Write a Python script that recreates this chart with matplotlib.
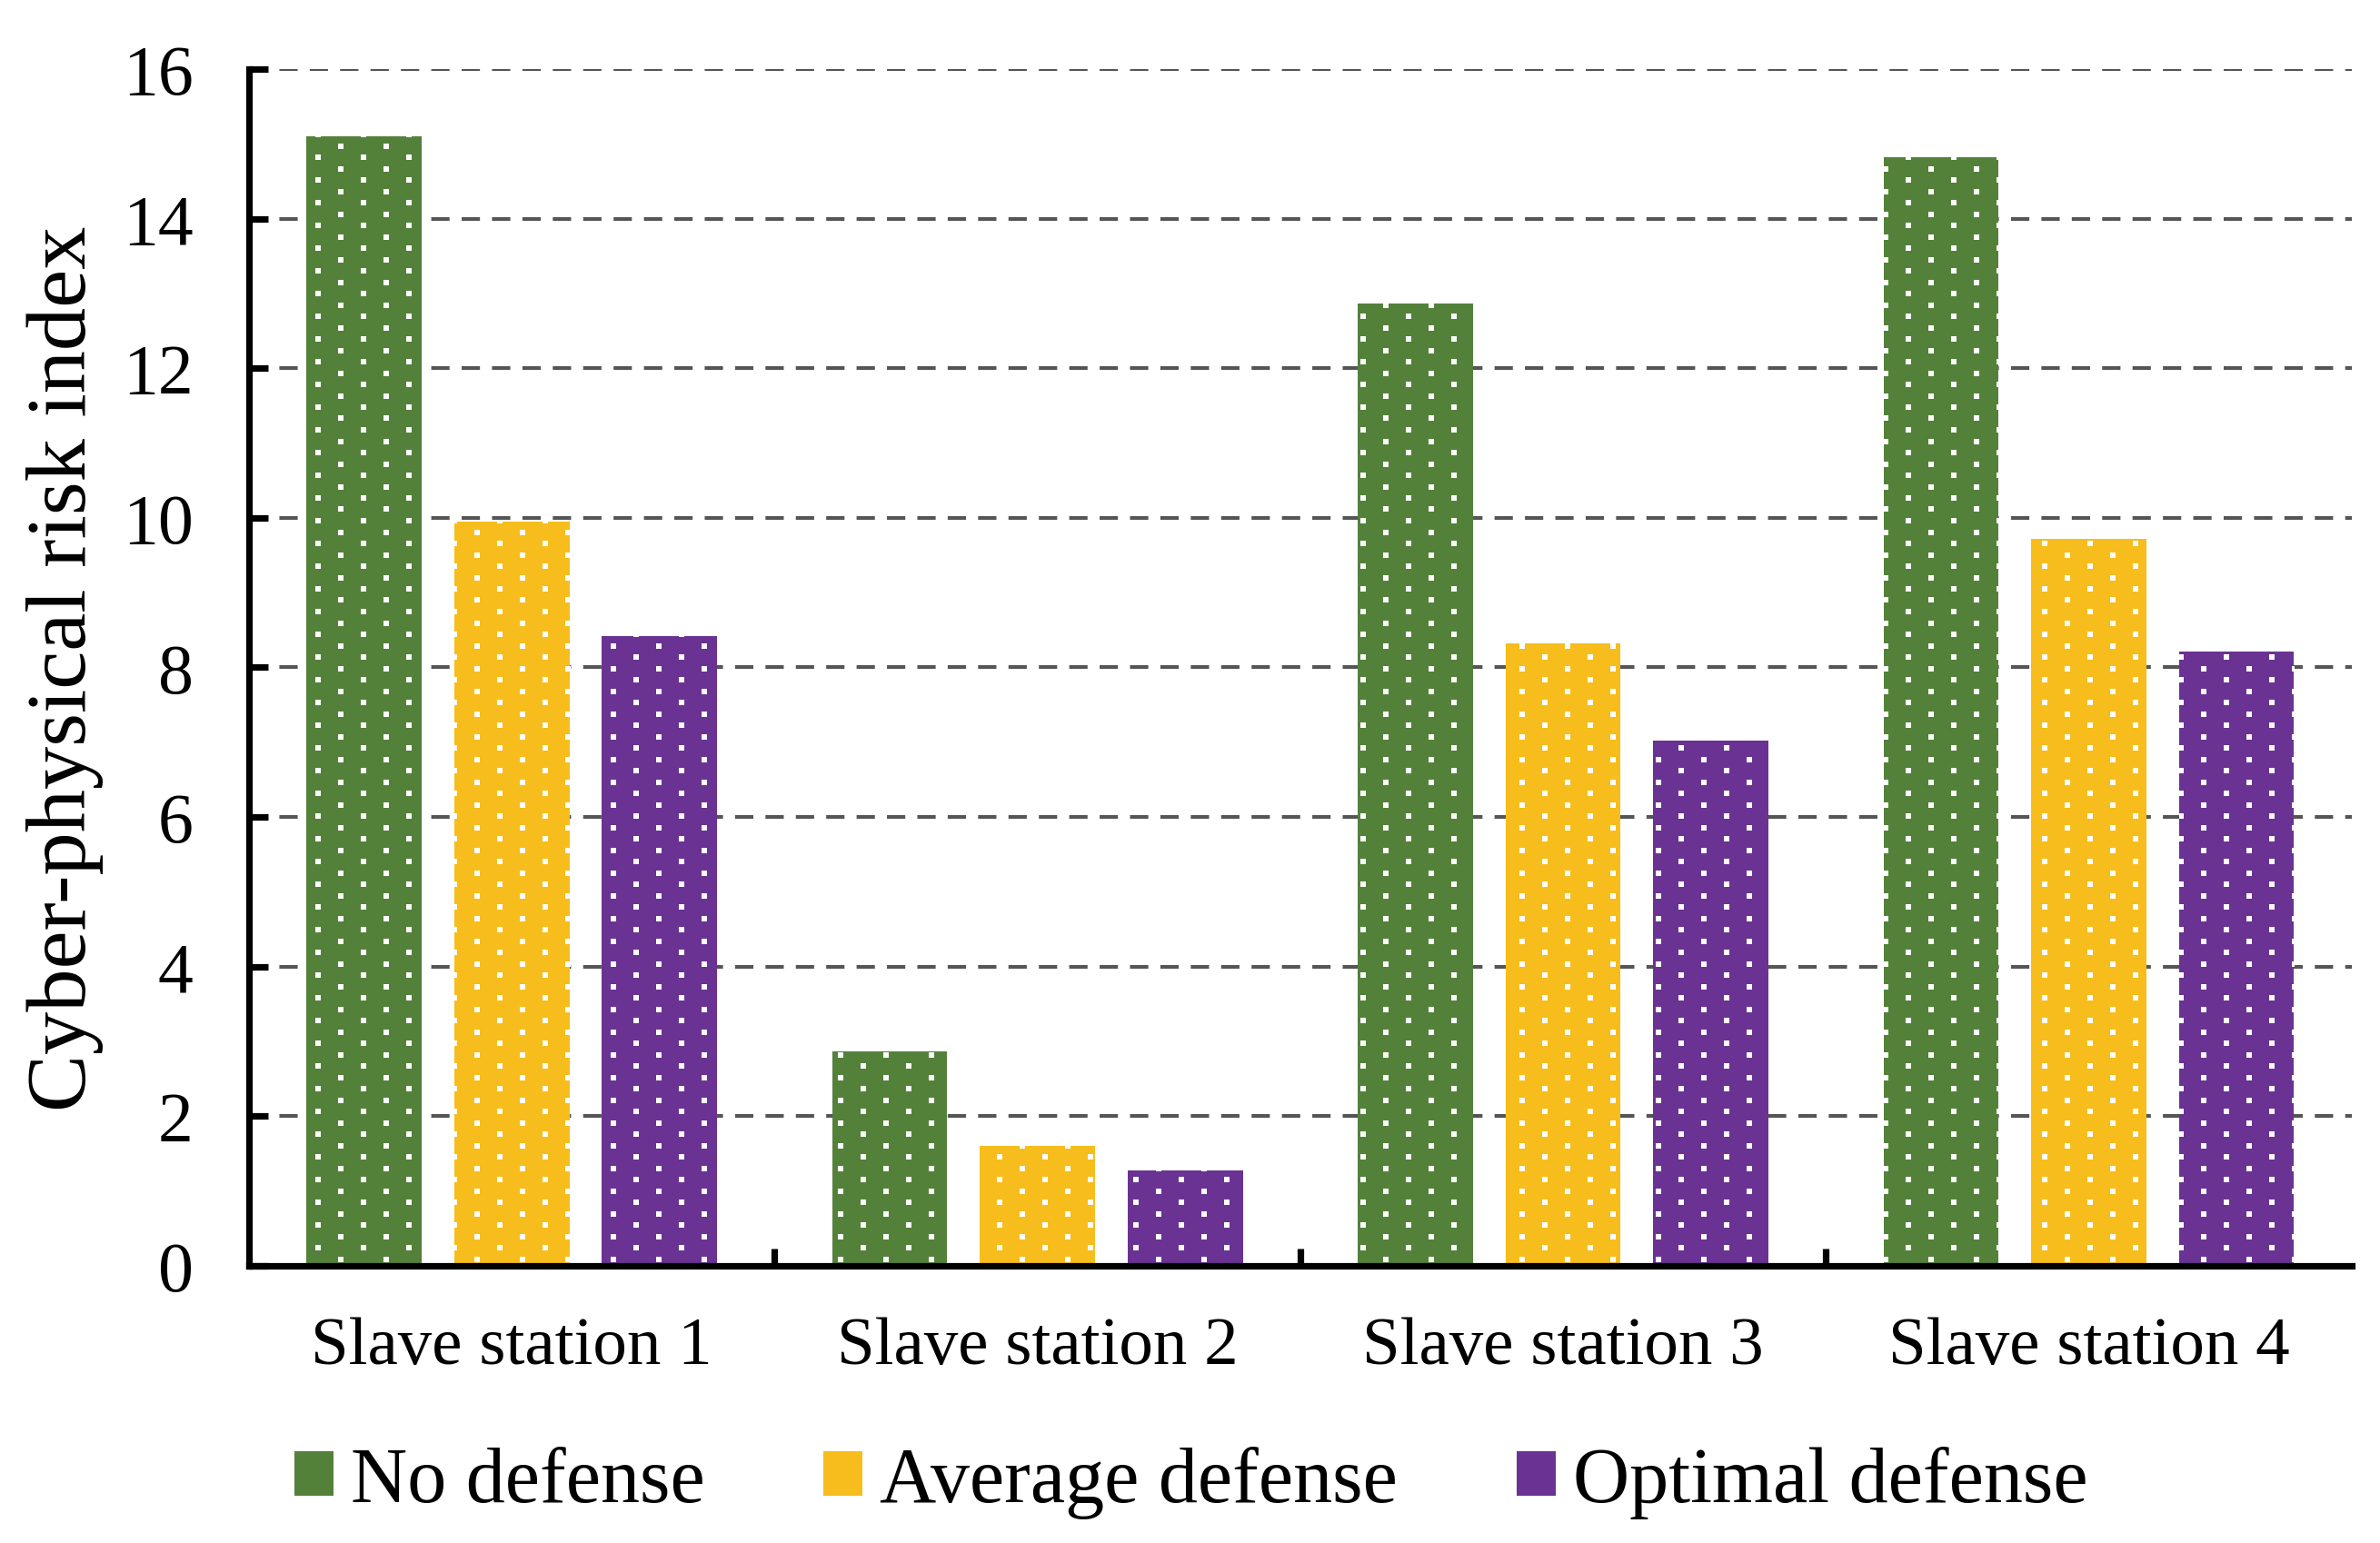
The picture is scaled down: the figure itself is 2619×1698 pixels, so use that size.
import numpy as np
import matplotlib
matplotlib.use("Agg")
import matplotlib.pyplot as plt
from matplotlib.patches import Patch

plt.rcParams['font.family'] = ['Liberation Serif', 'DejaVu Serif']

# данные
stations = ["Slave station 1", "Slave station 2", "Slave station 3", "Slave station 4"]
series = ["No defense", "Average defense", "Optimal defense"]
no_defense = [15.1, 2.87, 12.87, 14.82]
avg_defense = [9.95, 1.6, 8.32, 9.72]
opt_defense = [8.42, 1.27, 7.02, 8.21]
colors = ["#53813A", "#F6BD1C", "#6A3292"]

DPI = 200
fig = plt.figure(figsize=(2619 / DPI, 1699 / DPI), dpi=DPI)
ax = fig.add_axes([0.1046, 0.1796, 0.8835, 0.7751])

x = np.arange(len(stations))
width = 0.219
step = 0.281
bars = []
for k, (vals, col) in enumerate(zip([no_defense, avg_defense, opt_defense], colors)):
    b = ax.bar(x + (k - 1) * step, vals, width, color=col, edgecolor='none', zorder=2)
    bars.append(b)

ax.set_xlim(-0.5, 3.5)
ax.set_ylim(0, 16)
ax.set_yticks(np.arange(0, 17, 2))
ax.set_xticks(x)
ax.set_xticklabels(stations)
ax.set_xticks([0.5, 1.5, 2.5], minor=True)

ax.yaxis.grid(True, color='#555555', linewidth=1.45, linestyle=(0, (5, 3.3)), zorder=1)
ax.set_axisbelow(True)

for s in ['top', 'right']:
    ax.spines[s].set_visible(False)
for s in ['left', 'bottom']:
    ax.spines[s].set_linewidth(2.6)
    ax.spines[s].set_zorder(5)

ax.tick_params(axis='y', direction='in', length=7.5, width=2.6, labelsize=28, pad=22)
ax.tick_params(axis='x', which='major', length=0, labelsize=27, pad=20)
ax.tick_params(axis='x', which='minor', direction='in', length=7, width=2.6)

ax.set_ylabel("Cyber-physical risk index", fontsize=34)
ax.yaxis.set_label_coords(-0.069, 0.5)

# белые точки поверх столбцов (штриховка)
dot_dx, dot_dy = 50.0, 12.5
inv = ax.transData.inverted()
for b in bars:
    for rect in b:
        bb = rect.get_window_extent()
        pts = []
        r0 = int(np.floor(bb.y0 / dot_dy))
        r1 = int(np.ceil(bb.y1 / dot_dy))
        for r in range(r0, r1 + 1):
            yy = r * dot_dy
            off = (dot_dx / 2) if r % 2 else 0.0
            c0 = int(np.floor((bb.x0 - off) / dot_dx)) - 1
            c1 = int(np.ceil((bb.x1 - off) / dot_dx)) + 1
            for c in range(c0, c1 + 1):
                pts.append((c * dot_dx + off, yy))
        pts = inv.transform(np.array(pts))
        sc = ax.scatter(pts[:, 0], pts[:, 1], marker='s', s=(6 * 72 / DPI) ** 2,
                        color='white', linewidths=0, zorder=3)
        sc.set_clip_path(rect)

handles = [Patch(facecolor=c, edgecolor='none') for c in colors]
fig.legend(handles, series, loc='center', bbox_to_anchor=(0.5005, 0.0394), ncol=3,
           frameon=False, fontsize=31, handlelength=0.5, handleheight=0.5,
           handletextpad=0.22, columnspacing=1.52)

fig.savefig("out.png", dpi=DPI)
